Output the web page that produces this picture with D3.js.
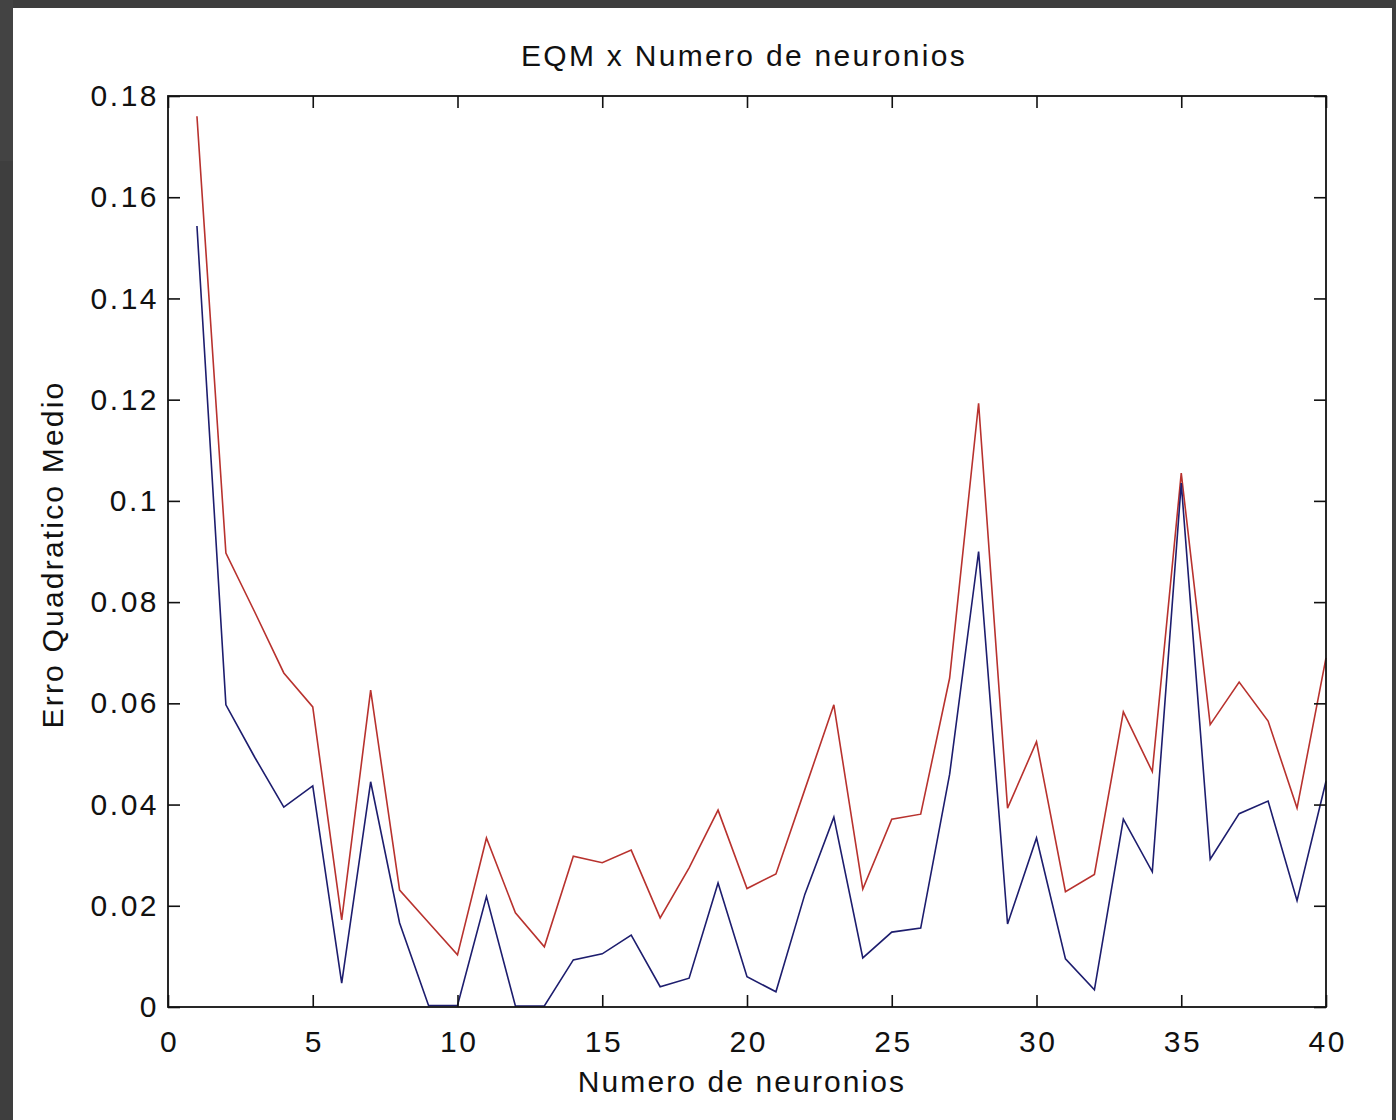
<!DOCTYPE html>
<html>
<head>
<meta charset="utf-8">
<script src="https://cdn.jsdelivr.net/npm/d3@7"></script>
<style>
  html, body { margin: 0; padding: 0; background: #3f3f3f; }
  svg { display: block; }
  text { font-family: "Liberation Sans", Arial, sans-serif; fill: #111; }
</style>
</head>
<body>
<div id="chart"></div>
<script>
// neurons on x, mean squared error on y
const neurons = [1, 2, 3, 4, 5, 6, 7, 8, 9, 10,
  11, 12, 13, 14, 15, 16, 17, 18, 19, 20,
  21, 22, 23, 24, 25, 26, 27, 28, 29, 30,
  31, 32, 33, 34, 35, 36, 37, 38, 39, 40];

const eqm_red = [0.176, 0.0897, 0.078, 0.066, 0.0593, 0.0172, 0.0626, 0.0231, 0.0167, 0.0103,
  0.0334, 0.0186, 0.0119, 0.0298, 0.0285, 0.031, 0.0176, 0.0275, 0.0389, 0.0234,
  0.0263, 0.043, 0.0597, 0.0233, 0.0371, 0.0381, 0.065, 0.1193, 0.0393, 0.0524,
  0.0228, 0.0262, 0.0583, 0.0465, 0.1055, 0.0558, 0.0642, 0.0565, 0.0393, 0.069];

const eqm_blue = [0.1543, 0.0597, 0.0493, 0.0395, 0.0437, 0.0047, 0.0445, 0.0166, 0.0003, 0.0003,
  0.0218, 0.0002, 0.0002, 0.0093, 0.0105, 0.0142, 0.004, 0.0057, 0.0245, 0.006,
  0.003, 0.0223, 0.0375, 0.0097, 0.0148, 0.0156, 0.046, 0.090, 0.0164, 0.0334,
  0.0095, 0.0034, 0.0371, 0.0267, 0.1035, 0.0292, 0.0382, 0.0407, 0.021, 0.0446];

const x_ticks = [0, 5, 10, 15, 20, 25, 30, 35, 40];
const y_ticks = [0, 0.02, 0.04, 0.06, 0.08, 0.1, 0.12, 0.14, 0.16, 0.18];
const y_tick_labels = ["0", "0.02", "0.04", "0.06", "0.08", "0.1", "0.12", "0.14", "0.16", "0.18"];

const title = "EQM x Numero de neuronios";
const x_label = "Numero de neuronios";
const y_label = "Erro Quadratico Medio";

const width = 1396;
const height = 1120;
const plotLeft = 168, plotTop = 96, plotRight = 1326, plotBottom = 1007;
const tickLen = 12;

const svg = d3.select("#chart").append("svg").attr("width", width).attr("height", height);

// dark window frame + white figure
svg.append("rect").attr("width", width).attr("height", height).attr("fill", "#3e3e3e");
svg.append("rect").attr("x", 0).attr("y", 0).attr("width", 13).attr("height", 161).attr("fill", "#434343");
svg.append("rect").attr("x", 13).attr("y", 8).attr("width", 1379).attr("height", height - 8).attr("fill", "#fff");

const x = d3.scaleLinear().domain([0, 40]).range([plotLeft, plotRight]);
const y = d3.scaleLinear().domain([0, 0.18]).range([plotBottom, plotTop]);

const g = svg.append("g");

// lines
const line = d3.line()
  .x((d, i) => x(neurons[i]))
  .y(d => y(d));

g.append("path")
  .datum(eqm_red)
  .attr("fill", "none")
  .attr("stroke", "#b8322e")
  .attr("stroke-width", 1.6)
  .attr("d", line);

g.append("path")
  .datum(eqm_blue)
  .attr("fill", "none")
  .attr("stroke", "#1d1d6e")
  .attr("stroke-width", 1.6)
  .attr("d", line);

// axes: bottom/left with labels, top/right mirrored ticks, all ticks inward
const fmtY = d => y_tick_labels[y_ticks.indexOf(d)];

const xAxisB = d3.axisBottom(x).tickValues(x_ticks).tickSize(-tickLen).tickPadding(tickLen + 12).tickSizeOuter(0);
const xAxisT = d3.axisTop(x).tickValues(x_ticks).tickSize(-tickLen).tickFormat("").tickSizeOuter(0);
const yAxisL = d3.axisLeft(y).tickValues(y_ticks).tickSize(-tickLen).tickPadding(tickLen - 3).tickFormat(fmtY).tickSizeOuter(0);
const yAxisR = d3.axisRight(y).tickValues(y_ticks).tickSize(-tickLen).tickFormat("").tickSizeOuter(0);

const axB = g.append("g").attr("transform", `translate(0,${plotBottom})`).call(xAxisB);
const axT = g.append("g").attr("transform", `translate(0,${plotTop})`).call(xAxisT);
const axL = g.append("g").attr("transform", `translate(${plotLeft},0)`).call(yAxisL);
const axR = g.append("g").attr("transform", `translate(${plotRight},0)`).call(yAxisR);

[axB, axT, axL, axR].forEach(a => {
  a.select(".domain").remove();
  a.selectAll(".tick line").attr("stroke", "#111").attr("stroke-width", 1.6);
  a.selectAll(".tick text")
    .style("font-family", "'Liberation Sans', Arial, sans-serif")
    .style("font-size", "30px")
    .style("letter-spacing", "2.5px")
    .attr("fill", "#111");
});
axB.selectAll(".tick text").attr("dx", "1.2px");

// box
g.append("rect")
  .attr("x", plotLeft).attr("y", plotTop)
  .attr("width", plotRight - plotLeft).attr("height", plotBottom - plotTop)
  .attr("fill", "none").attr("stroke", "#111").attr("stroke-width", 1.8);

// titles
svg.append("text")
  .attr("x", 744)
  .attr("y", 66)
  .attr("text-anchor", "middle")
  .style("font-size", "30px")
  .style("letter-spacing", "2.3px")
  .text(title);

svg.append("text")
  .attr("x", 742)
  .attr("y", 1092)
  .attr("text-anchor", "middle")
  .style("font-size", "30px")
  .style("letter-spacing", "2.1px")
  .text(x_label);

svg.append("text")
  .attr("transform", `translate(63,${(plotTop + plotBottom) / 2 + 3}) rotate(-90)`)
  .attr("text-anchor", "middle")
  .style("font-size", "30px")
  .style("letter-spacing", "2.2px")
  .text(y_label);
</script>
</body>
</html>
